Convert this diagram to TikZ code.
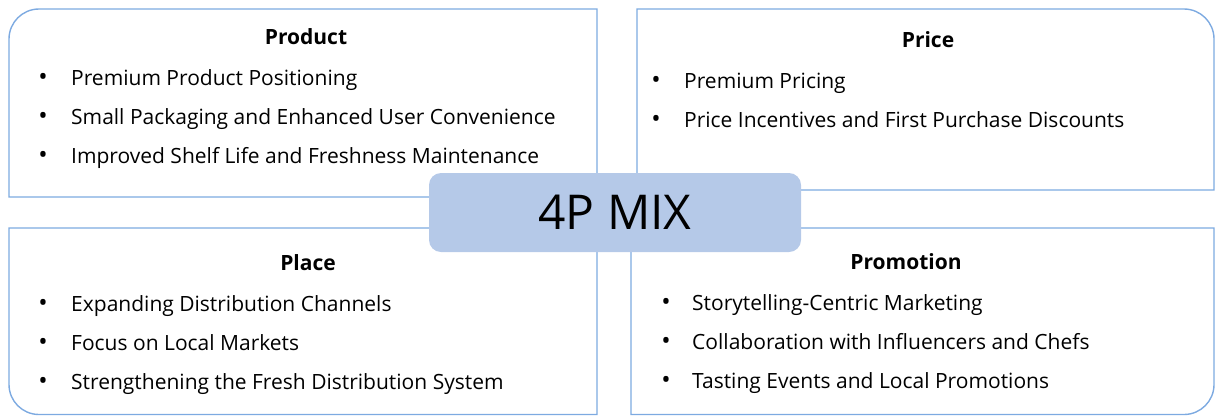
\documentclass[tikz,border=0pt]{standalone}
\usepackage{fontspec}
\setmainfont{Open Sans}
\definecolor{boxline}{RGB}{125,170,225}
\definecolor{mixfill}{RGB}{181,201,232}
\begin{document}
\begin{tikzpicture}[x=1pt,y=1pt,
  frame/.style={draw=boxline, line width=1.4pt},
  ttl/.style={font=\fontsize{21}{21}\selectfont\bfseries, anchor=base, inner sep=0pt},
  itm/.style={font=\fontsize{21}{21}\selectfont, anchor=base west, inner sep=0pt},
  bul/.style={font=\fontsize{25}{25}\selectfont, anchor=base, inner sep=0pt}]
\useasboundingbox (0,0) rectangle (1215,-416);
% quadrant frames
\draw[frame] (597,-197) -- (9,-197) -- (9,-39) arc[start angle=180,end angle=90,radius=30] -- (597,-9) -- cycle;
\draw[frame] (637,-190) -- (637,-9) -- (1184,-9) arc[start angle=90,end angle=0,radius=30] -- (1214,-190) -- cycle;
\draw[frame] (597,-228) -- (9,-228) -- (9,-384.5) arc[start angle=180,end angle=270,radius=30] -- (597,-414.5) -- cycle;
\draw[frame] (631,-228) -- (1214,-228) -- (1214,-384.5) arc[start angle=0,end angle=-90,radius=30] -- (631,-414.5) -- cycle;
% Product
\node[ttl] (t1) at (306,-44) {Product};
\node[bul] (b11) at (43,-85) {•};
\node[itm] (i11) at (71,-85) {Premium Product Positioning};
\node[bul] (b12) at (43,-124) {•};
\node[itm] (i12) at (71,-124) {Small Packaging and Enhanced User Convenience};
\node[bul] (b13) at (43,-163) {•};
\node[itm] (i13) at (71,-163) {Improved Shelf Life and Freshness Maintenance};
% Price
\node[ttl] (t2) at (928,-47) {Price};
\node[bul] (b21) at (656,-88) {•};
\node[itm] (i21) at (684,-88) {Premium Pricing};
\node[bul] (b22) at (656,-127) {•};
\node[itm] (i22) at (684,-127) {Price Incentives and First Purchase Discounts};
% Place
\node[ttl] (t3) at (308,-270) {Place};
\node[bul] (b31) at (43,-311) {•};
\node[itm] (i31) at (71,-311) {Expanding Distribution Channels};
\node[bul] (b32) at (43,-350) {•};
\node[itm] (i32) at (71,-350) {Focus on Local Markets};
\node[bul] (b33) at (43,-389) {•};
\node[itm] (i33) at (71,-389) {Strengthening the Fresh Distribution System};
% Promotion
\node[ttl] (t4) at (906,-269) {Promotion};
\node[bul] (b41) at (666,-310) {•};
\node[itm] (i41) at (692,-310) {Storytelling-Centric Marketing};
\node[bul] (b42) at (666,-349) {•};
\node[itm] (i42) at (692,-349) {Collaboration with Influencers and Chefs};
\node[bul] (b43) at (666,-388) {•};
\node[itm] (i43) at (692,-388) {Tasting Events and Local Promotions};
% centre
\node[fill=mixfill, rounded corners=12pt, minimum width=372pt, minimum height=79pt, inner sep=0pt,
  font=\fontsize{48}{48}\selectfont] (mix) at (615,-212.5) {4P MIX};
\end{tikzpicture}
\end{document}
